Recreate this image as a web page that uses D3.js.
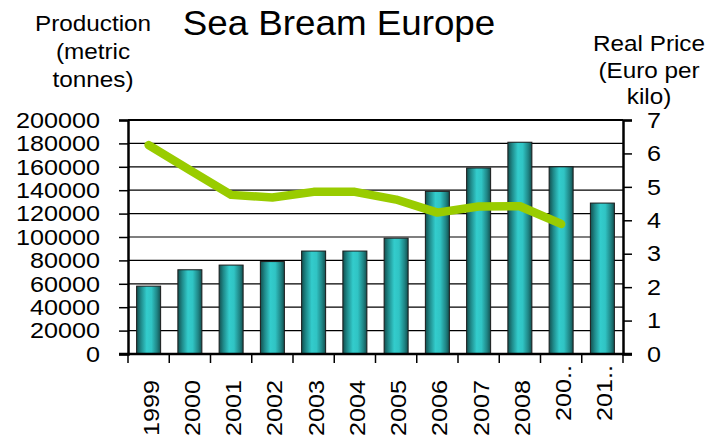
<!DOCTYPE html>
<html>
<head>
<meta charset="utf-8">
<script src="https://cdn.jsdelivr.net/npm/d3@7"></script>
<style>
  html, body { margin: 0; padding: 0; background: #fff; }
  svg { display: block; }
  text { font-family: "Liberation Sans", Arial, sans-serif; fill: #000; }
</style>
</head>
<body>
<svg id="chart" width="716" height="439"></svg>
<script>
// ---- data ----
const years = ["1999","2000","2001","2002","2003","2004","2005","2006","2007","2008","200..","201.."];
const production = [58000, 72000, 76000, 79000, 88000, 88000, 99000, 139000, 159000, 181000, 160000, 129000];
const price = [6.25, 5.5, 4.76, 4.68, 4.85, 4.85, 4.62, 4.23, 4.41, 4.42, 3.89, null];
const leftTicks = [0, 20000, 40000, 60000, 80000, 100000, 120000, 140000, 160000, 180000, 200000];
const rightTicks = [0, 1, 2, 3, 4, 5, 6, 7];
const titleText = "Sea Bream Europe";
const leftTitle = ["Production", "(metric", "tonnes)"];
const rightTitle = ["Real Price", "(Euro per", "kilo)"];

// ---- layout ----
const svg = d3.select("#chart");
const L = 128, R = 623, T = 120, B = 354;
const SX = 1.12, FS = 22.5;

const x = d3.scaleBand().domain(years).range([L, R]).paddingInner(0.418).paddingOuter(0.209);
const yL = d3.scaleLinear().domain([0, 200000]).range([B, T]);
const yR = d3.scaleLinear().domain([0, 7]).range([B, T]);

function stretch(sel, k) {
  sel.each(function () {
    const t = d3.select(this);
    const tx = +t.attr("x") || 0, ty = +t.attr("y") || 0;
    t.attr("x", 0).attr("y", 0)
     .attr("transform", `translate(${tx},${ty}) scale(${k},1)`);
  });
}

// gradient
const defs = svg.append("defs");
const g = defs.append("linearGradient").attr("id", "barGrad").attr("x1", "0%").attr("x2", "100%").attr("y1", "0%").attr("y2", "0%");
[["0%", "#134f4f"], ["18%", "#1f8a8a"], ["42%", "#33cccc"], ["62%", "#30c4c4"], ["85%", "#1f8585"], ["100%", "#134f4f"]]
  .forEach(([o, c]) => g.append("stop").attr("offset", o).attr("stop-color", c));

// gridlines
svg.append("g").selectAll("line").data(leftTicks.filter(d => d > 0 && d < 200000)).join("line")
  .attr("x1", L).attr("x2", R).attr("y1", d => yL(d)).attr("y2", d => yL(d))
  .attr("stroke", "#000").attr("stroke-width", 1.2);
// top border
svg.append("line").attr("x1", L).attr("x2", R).attr("y1", yL(200000)).attr("y2", yL(200000))
  .attr("stroke", "#000").attr("stroke-width", 2);

// bars
svg.append("g").selectAll("rect").data(years).join("rect")
  .attr("x", d => x(d)).attr("width", x.bandwidth())
  .attr("y", (d, i) => yL(production[i])).attr("height", (d, i) => B - yL(production[i]))
  .attr("fill", "url(#barGrad)").attr("stroke", "#1a1a1a").attr("stroke-width", 1);

// left axis
const axL = svg.append("g").attr("transform", `translate(${L},0)`)
  .call(d3.axisLeft(yL).tickValues(leftTicks).tickFormat(d3.format("d")).tickSize(9).tickPadding(19));
axL.select(".domain").attr("stroke", "#000").attr("stroke-width", 2.5);
axL.selectAll(".tick line").attr("stroke", "#000").attr("stroke-width", 1.5);
axL.selectAll(".tick text").attr("font-size", FS).attr("font-family", "Liberation Sans, Arial, sans-serif").attr("fill", "#000");
stretch(axL.selectAll(".tick text"), SX);

// right axis
const axR = svg.append("g").attr("transform", `translate(${R},0)`)
  .call(d3.axisRight(yR).tickValues(rightTicks).tickFormat(d3.format("d")).tickSize(9).tickPadding(15));
axR.select(".domain").attr("stroke", "#000").attr("stroke-width", 2.5);
axR.selectAll(".tick line").attr("stroke", "#000").attr("stroke-width", 1.5);
axR.selectAll(".tick text").attr("font-size", FS).attr("font-family", "Liberation Sans, Arial, sans-serif").attr("fill", "#000");
stretch(axR.selectAll(".tick text"), SX);

// bottom axis line + category ticks
svg.append("line").attr("x1", L - 9).attr("x2", R + 9).attr("y1", B).attr("y2", B)
  .attr("stroke", "#000").attr("stroke-width", 2.5);
const bounds = d3.range(years.length + 1).map(i => L + i * x.step());
svg.append("g").selectAll("line").data(bounds).join("line")
  .attr("x1", d => d).attr("x2", d => d).attr("y1", B).attr("y2", B + 9)
  .attr("stroke", "#000").attr("stroke-width", 1.5);

// x labels (rotated)
svg.append("g").selectAll("text").data(years).join("text")
  .attr("transform", d => {
    const cx = x(d) + x.bandwidth() / 2 + 2;
    const ty = d.endsWith("..") ? 365 : 380;
    return `translate(${cx},${ty}) rotate(-90) scale(${SX},1)`;
  })
  .attr("text-anchor", "end").attr("dominant-baseline", "central")
  .attr("font-size", FS).text(d => d);

// price line
const line = d3.line()
  .defined(d => d.v != null)
  .x(d => x(d.k) + x.bandwidth() / 2)
  .y(d => yR(d.v));
svg.append("path")
  .datum(years.map((k, i) => ({ k, v: price[i] })))
  .attr("d", line)
  .attr("fill", "none").attr("stroke", "#99cc00").attr("stroke-width", 8.5)
  .attr("stroke-linejoin", "round").attr("stroke-linecap", "round");

// titles
svg.append("text").attr("transform", `translate(339,35) scale(1.05,1)`)
  .attr("text-anchor", "middle").attr("font-size", 35).text(titleText);

svg.append("g").selectAll("text").data(leftTitle).join("text")
  .attr("transform", (d, i) => `translate(93,${31 + i * 28}) scale(1.08,1)`)
  .attr("text-anchor", "middle").attr("font-size", 22.5).text(d => d);

svg.append("g").selectAll("text").data(rightTitle).join("text")
  .attr("transform", (d, i) => `translate(649,${51 + i * 26.5}) scale(1.08,1)`)
  .attr("text-anchor", "middle").attr("font-size", 22.5).text(d => d);
</script>
</body>
</html>
